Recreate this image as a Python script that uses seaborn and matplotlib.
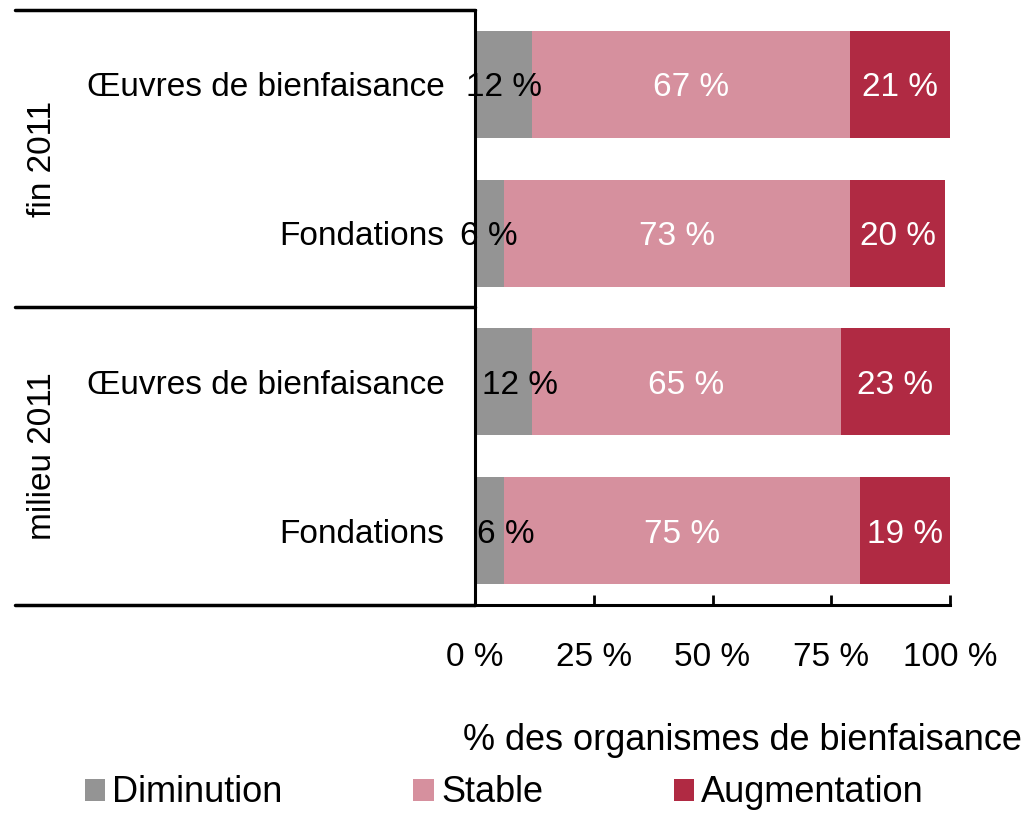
import pandas as pd
import seaborn as sns
import matplotlib.pyplot as plt
from matplotlib.patches import Patch

# Data
periods = ['fin 2011', 'fin 2011', 'milieu 2011', 'milieu 2011']
orgs = ['Œuvres de bienfaisance', 'Fondations', 'Œuvres de bienfaisance', 'Fondations']
diminution = [12, 6, 12, 6]
stable = [67, 73, 65, 75]
augmentation = [21, 20, 23, 19]
# small nudge of the grey labels, as in the original
dim_label_shift = [0, 0, 3.5, 3.5]

colors = {'Diminution': '#949494', 'Stable': '#d6909e', 'Augmentation': '#b02a43'}

df = pd.DataFrame({'period': periods, 'org': orgs,
                   'Diminution': diminution, 'Stable': stable,
                   'Augmentation': augmentation})
df['key'] = df['period'] + ' | ' + df['org']
df['cum_stable'] = df['Diminution'] + df['Stable']
df['cum_all'] = df['cum_stable'] + df['Augmentation']

sns.set_style('white')
plt.rcParams['font.family'] = ['Liberation Sans', 'DejaVu Sans']
plt.rcParams['text.color'] = 'black'
plt.rcParams['xtick.color'] = 'black'
plt.rcParams['ytick.color'] = 'black'
plt.rcParams['xtick.labelcolor'] = 'black'
plt.rcParams['ytick.labelcolor'] = 'black'

fig = plt.figure(figsize=(10.36, 8.14), dpi=100)
ax = fig.add_axes([0.4585, 0.2568, 0.4585, 0.731])

# stacked horizontal bars drawn as overlapping cumulative totals
for col in ['cum_all', 'cum_stable', 'Diminution']:
    name = {'cum_all': 'Augmentation', 'cum_stable': 'Stable'}.get(col, col)
    sns.barplot(data=df, y='key', x=col, orient='h', color=colors[name],
                width=0.72, ax=ax, saturation=1, linewidth=0, edgecolor='none')

for i, row in df.iterrows():
    ax.text(row['Diminution'] / 2 + dim_label_shift[i], i, f"{row['Diminution']} %",
            ha='center', va='center_baseline', fontsize=24, color='black')
    ax.text(row['Diminution'] + row['Stable'] / 2, i, f"{row['Stable']} %",
            ha='center', va='center_baseline', fontsize=24, color='white')
    ax.text(row['cum_stable'] + row['Augmentation'] / 2, i, f"{row['Augmentation']} %",
            ha='center', va='center_baseline', fontsize=24, color='white')

ax.set_xlim(0, 100)
ax.set_ylim(3.5, -0.5)
ax.set_xticks([0, 25, 50, 75, 100])
ax.set_xticklabels(['0 %', '25 %', '50 %', '75 %', '100 %'], fontsize=24)
ax.set_yticks(range(len(orgs)))
ax.set_yticklabels(orgs, fontsize=24)
ax.tick_params(axis='x', direction='in', length=7, width=2, pad=27, bottom=True)
ax.tick_params(axis='y', length=0, pad=22)
ax.set_xlabel('')
ax.set_ylabel('')

for side in ['top', 'right']:
    ax.spines[side].set_visible(False)
for side in ['left', 'bottom']:
    ax.spines[side].set_linewidth(2.2)
    ax.spines[side].set_color('black')

# group separators and labels on the left
trans = ax.get_yaxis_transform()
for yv in [-0.5, 1.5, 3.5]:
    ax.plot([-0.968, 0], [yv, yv], color='black', lw=2.5, transform=trans, clip_on=False)
ax.text(-0.91, 0.5, 'fin 2011', rotation=90, ha='center', va='center',
        fontsize=24, transform=trans)
ax.text(-0.91, 2.5, 'milieu 2011', rotation=90, ha='center', va='center',
        fontsize=24, transform=trans)

fig.text(0.986, 1 - 740 / 814, '% des organismes de bienfaisance',
         ha='right', va='center', fontsize=26)

handles = [Patch(facecolor=colors[k], edgecolor='none') for k in colors]
fig.legend(handles, list(colors.keys()), loc='center left', bbox_to_anchor=(0.082, 1 - 793 / 814),
           ncol=3, frameon=False, fontsize=26, handlelength=0.56, handleheight=0.56,
           handletextpad=0.2, columnspacing=3.62, borderaxespad=0, borderpad=0)

fig.savefig('out.png', dpi=100)
